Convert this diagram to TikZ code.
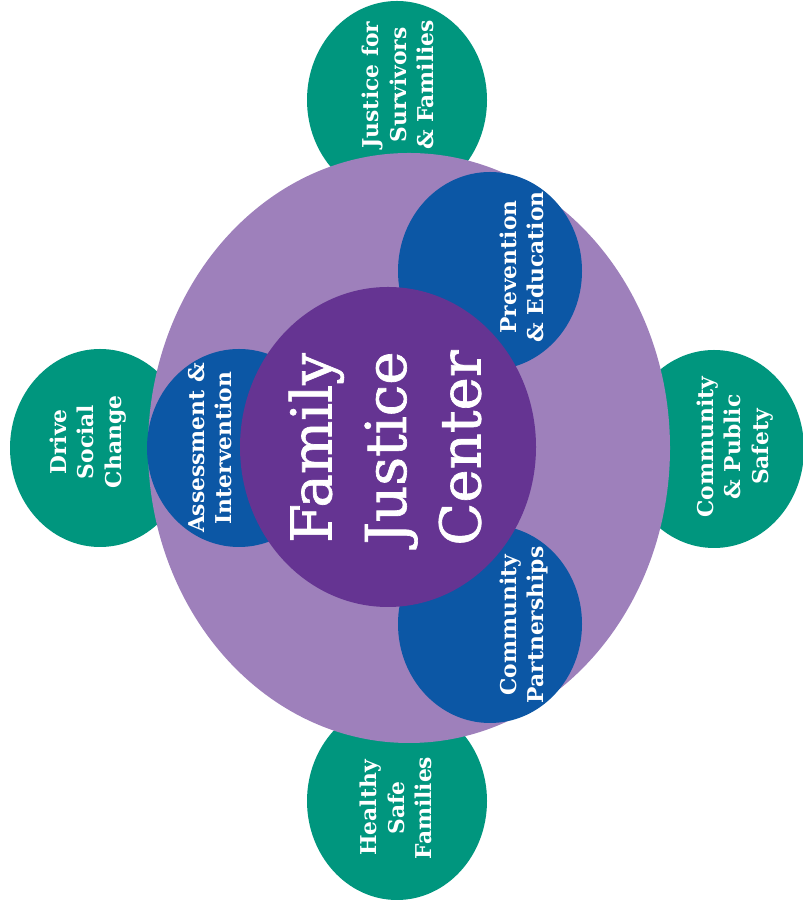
\documentclass[tikz,border=0pt]{standalone}
\usepackage{fontspec}
\setmainfont{DejaVu Serif}
\newfontfamily\hubfont{DejaVu Serif}[FakeBold=1.2]
\usepackage{tikz}

\definecolor{fjcgreen}{RGB}{0,150,126}
\definecolor{fjcring}{RGB}{158,128,187}
\definecolor{fjcblue}{RGB}{12,87,165}
\definecolor{fjchub}{RGB}{101,52,146}

\begin{document}
\begin{tikzpicture}[x=0.025cm, y=0.025cm]
 \tikzstyle{goal} = [fill=fjcgreen]
 \tikzstyle{service} = [fill=fjcblue]
 \tikzstyle{smalllabel} = [text=white,rotate=90,align=center,inner sep=0,
   font=\bfseries\fontsize{15.5}{19.5}\selectfont]
 \tikzstyle{hublabel} = [text=white,rotate=90,align=center,inner sep=0,
   font=\hubfont\fontsize{40}{53}\selectfont]
 \newcommand{\grx}{90}
 \newcommand{\gry}{99}

% Page
 \useasboundingbox (0,0) rectangle (802,912);

% Goals (behind the ring)
 \fill[goal] (397,812) ellipse [x radius=\grx, y radius=\gry];
 \fill[goal] (100,464) ellipse [x radius=\grx, y radius=\gry];
 \fill[goal] (714,463) ellipse [x radius=\grx, y radius=\gry];
 \fill[goal] (397,111) ellipse [x radius=\grx, y radius=\gry];

% Ring
 \fill[fjcring] (409,464) ellipse [x radius=261, y radius=295];

% Services
 \fill[service] (239,464) ellipse [x radius=92, y radius=\gry];
 \fill[service] (490,641) ellipse [x radius=92, y radius=\gry];
 \fill[service] (490,288) ellipse [x radius=92, y radius=\gry];

% Hub
 \fill[fjchub] (388,465) ellipse [x radius=148, y radius=160];

% Labels
 \node[smalllabel] (g1) at (398,827) {Justice for\\Survivors\\\& Families};
 \node[smalllabel] (g2) at (88,470) {Drive\\Social\\Change};
 \node[smalllabel] (g3) at (735,465) {Community\\\& Public\\Safety};
 \node[smalllabel] (g4) at (396,104) {Healthy\\Safe\\Families};

 \node[smalllabel] (s1) at (210,464) {Assessment \&\\Intervention};
 \node[smalllabel] (s2) at (522,645) {Prevention\\\& Education};
 \node[smalllabel] (s3) at (524,287) {Community\\Partnerships};

 \node[hublabel] (hub) at (385,464) {Family\\Justice\\Center};
\end{tikzpicture}
\end{document}
